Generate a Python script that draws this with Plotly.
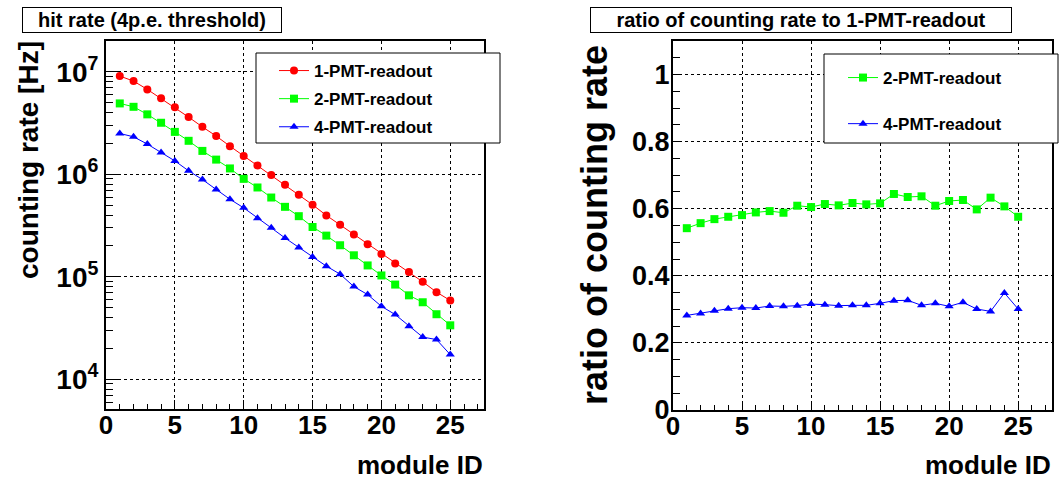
import plotly.graph_objects as go

W, H = 1061, 482

module_id = list(range(1, 26))

rate_1pmt = [9.08e6, 8.11e6, 6.73e6, 5.50e6, 4.50e6, 3.61e6, 2.90e6, 2.36e6, 1.88e6, 1.51e6,
             1.22e6, 9.82e5, 7.91e5, 6.31e5, 5.04e5, 3.97e5, 3.21e5, 2.59e5, 2.08e5, 1.67e5,
             1.35e5, 1.11e5, 8.93e4, 7.08e4, 5.87e4]
rate_2pmt = [4.91e6, 4.55e6, 3.84e6, 3.18e6, 2.59e6, 2.12e6, 1.69e6, 1.39e6, 1.14e6, 9.02e5,
             7.43e5, 5.93e5, 4.81e5, 3.90e5, 3.06e5, 2.52e5, 2.03e5, 1.62e5, 1.29e5, 1.03e5,
             8.39e4, 6.59e4, 5.64e4, 4.31e4, 3.36e4]
rate_4pmt = [2.50e6, 2.32e6, 1.97e6, 1.63e6, 1.35e6, 1.08e6, 8.89e5, 7.11e5, 5.71e5, 4.70e5,
             3.72e5, 3.00e5, 2.39e5, 1.93e5, 1.56e5, 1.27e5, 1.06e5, 8.02e4, 6.70e4, 5.15e4,
             4.28e4, 3.29e4, 2.58e4, 2.44e4, 1.74e4]

ratio_2pmt = [0.542, 0.557, 0.569, 0.576, 0.581, 0.589, 0.593, 0.588, 0.609, 0.605,
              0.614, 0.610, 0.617, 0.613, 0.616, 0.644, 0.635, 0.637, 0.609, 0.623,
              0.626, 0.598, 0.633, 0.607, 0.576]
ratio_4pmt = [0.282, 0.288, 0.296, 0.302, 0.305, 0.304, 0.310, 0.309, 0.311, 0.316,
              0.314, 0.311, 0.312, 0.312, 0.318, 0.326, 0.327, 0.312, 0.318, 0.309,
              0.321, 0.301, 0.294, 0.349, 0.301]

log_major_vals = [1e4, 1e5, 1e6, 1e7]
log_major_text = ["10<sup>4</sup>", "10<sup>5</sup>", "10<sup>6</sup>", "10<sup>7</sup>"]
log_minor_vals = [m * 10 ** e for e in range(3, 8) for m in range(2, 10)]

labels = ["1-PMT-readout", "2-PMT-readout", "4-PMT-readout"]
colors = ["#ff0000", "#00ff00", "#0000ff"]
symbols = ["circle", "square", "triangle-up"]

FONT = "Liberation Sans, Arial, sans-serif"


def px(x):
    return x / W


def py(y):
    return 1 - y / H


fig = go.Figure()

left_series = [rate_1pmt, rate_2pmt, rate_4pmt]
for i, ys in enumerate(left_series):
    fig.add_trace(go.Scatter(
        x=module_id, y=ys, mode="lines+markers", name=labels[i],
        line=dict(color=colors[i], width=1),
        marker=dict(color=colors[i], symbol=symbols[i], size=8),
        xaxis="x", yaxis="y", legend="legend", legendgroup="l%d" % i,
    ))

right_series = [ratio_2pmt, ratio_4pmt]
for j, ys in enumerate(right_series):
    i = j + 1
    fig.add_trace(go.Scatter(
        x=module_id, y=ys, mode="lines+markers", name=labels[i],
        line=dict(color=colors[i], width=1),
        marker=dict(color=colors[i], symbol=symbols[i], size=8),
        xaxis="x2", yaxis="y2", legend="legend2", legendgroup="r%d" % i,
    ))

common = dict(showline=True, linecolor="black", linewidth=2, mirror=True,
              ticks="inside", tickcolor="black", tickwidth=1,
              showgrid=True, gridcolor="black", gridwidth=1, griddash="dot",
              zeroline=False, automargin=False)
xfont = dict(family=FONT, size=26, color="black", weight="bold")
yfont = dict(family=FONT, size=27, color="black", weight="bold")

fig.update_layout(
    width=W, height=H,
    margin=dict(l=0, r=0, t=0, b=0),
    paper_bgcolor="white", plot_bgcolor="white",
    font=dict(family=FONT, color="black"),
    xaxis=dict(domain=[px(106), px(484)], range=[0, 27.45], anchor="y",
               tickmode="linear", tick0=0, dtick=5, ticklen=9, tickfont=xfont,
               ticklabelstandoff=-8,
               minor=dict(ticks="inside", ticklen=5, dtick=1, tickcolor="black", showgrid=False),
               **common),
    yaxis=dict(domain=[py(409), py(41)], type="log", range=[3.71, 7.30], anchor="x",
               tickmode="array", tickvals=log_major_vals, ticktext=log_major_text, ticklen=13,
               tickfont=dict(family=FONT, size=28, color="black", weight="bold"),
               minor=dict(ticks="inside", ticklen=7, tickcolor="black", showgrid=False,
                          tickmode="array", tickvals=log_minor_vals),
               **common),
    xaxis2=dict(domain=[px(673), px(1052)], range=[0, 27.45], anchor="y2",
                tickmode="linear", tick0=0, dtick=5, ticklen=9, tickfont=xfont,
                ticklabelstandoff=-8,
                minor=dict(ticks="inside", ticklen=5, dtick=1, tickcolor="black", showgrid=False),
                **common),
    yaxis2=dict(domain=[py(410), py(41)], range=[0, 1.1], anchor="x2",
                tickmode="linear", tick0=0, dtick=0.2, ticklen=9, tickfont=yfont,
                ticklabelstandoff=-4,
                minor=dict(ticks="inside", ticklen=7, dtick=0.05, tickcolor="black", showgrid=False),
                **common),
    legend=dict(x=px(274), y=py(53), xanchor="left", yanchor="top",
                bgcolor="rgba(0,0,0,0)", borderwidth=0,
                font=dict(family=FONT, size=17, color="black", weight="bold"),
                traceorder="grouped", tracegroupgap=3),
    legend2=dict(x=px(843), y=py(60), xanchor="left", yanchor="top",
                 bgcolor="rgba(0,0,0,0)", borderwidth=0,
                 font=dict(family=FONT, size=17, color="black", weight="bold"),
                 traceorder="grouped", tracegroupgap=21),
    showlegend=True,
)

# legend frames
fig.add_shape(type="rect", xref="paper", yref="paper",
              x0=px(256), x1=px(500), y0=py(143), y1=py(53),
              line=dict(color="black", width=1), fillcolor="white", layer="above")
fig.add_shape(type="rect", xref="paper", yref="paper",
              x0=px(824), x1=px(1058), y0=py(143), y1=py(54),
              line=dict(color="black", width=1), fillcolor="white", layer="above")

# titles
fig.add_annotation(text="hit rate (4p.e. threshold)", xref="paper", yref="paper",
                   x=px(152), y=py(20), xanchor="center", yanchor="middle", showarrow=False,
                   width=258, height=24, borderpad=0, bordercolor="black", borderwidth=1,
                   bgcolor="white",
                   font=dict(family=FONT, size=20, color="black", weight="bold"))
fig.add_annotation(text="ratio of counting rate to 1-PMT-readout", xref="paper", yref="paper",
                   x=px(801), y=py(20), xanchor="center", yanchor="middle", showarrow=False,
                   width=420, height=24, borderpad=0, bordercolor="black", borderwidth=1,
                   bgcolor="white",
                   font=dict(family=FONT, size=20, color="black", weight="bold"))

# axis titles
fig.add_annotation(text="counting rate [Hz]", xref="paper", yref="paper",
                   x=px(29), y=py(160), xanchor="center", yanchor="middle", showarrow=False,
                   textangle=-90, font=dict(family=FONT, size=28, color="black", weight="bold"))
fig.add_annotation(text="ratio of counting rate", xref="paper", yref="paper",
                   x=px(594), y=py(225), xanchor="center", yanchor="middle", showarrow=False,
                   textangle=-90, font=dict(family=FONT, size=36, color="black", weight="bold"))
fig.add_annotation(text="module ID", xref="paper", yref="paper",
                   x=px(485), y=py(465), xanchor="right", yanchor="middle", showarrow=False,
                   font=dict(family=FONT, size=26, color="black", weight="bold"))
fig.add_annotation(text="module ID", xref="paper", yref="paper",
                   x=px(1053), y=py(465), xanchor="right", yanchor="middle", showarrow=False,
                   font=dict(family=FONT, size=26, color="black", weight="bold"))

fig.write_html("out.html", config={"displayModeBar": False},
               post_script="document.body.style.margin='0';")
